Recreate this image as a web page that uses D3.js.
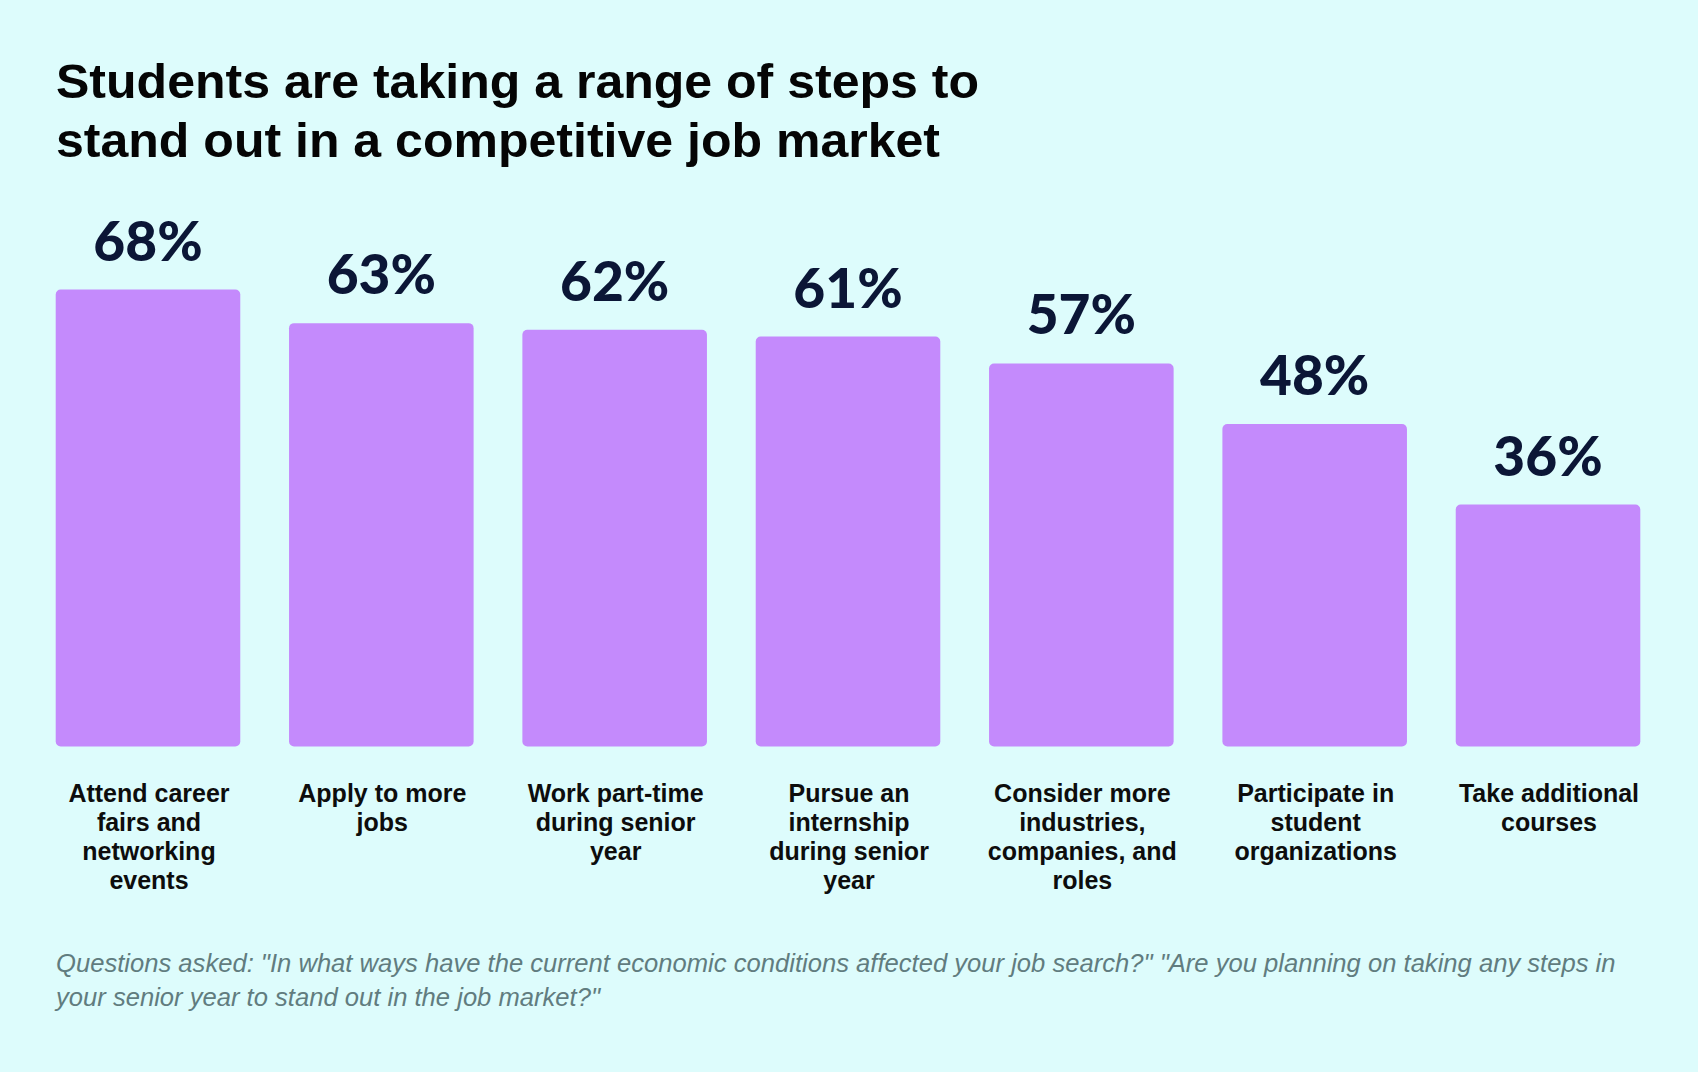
<!DOCTYPE html>
<html>
<head>
<meta charset="utf-8">
<script src="https://cdn.jsdelivr.net/npm/d3@7"></script>
<style>
  html, body { margin: 0; padding: 0; background: #ddfcfc; }
  svg { display: block; }
</style>
</head>
<body>
<svg id="chart" width="1698" height="1072"></svg>
<script>
const titleLines = [
  "Students are taking a range of steps to",
  "stand out in a competitive job market"
];
const categories = [
  "Attend career\nfairs and\nnetworking\nevents",
  "Apply to more\njobs",
  "Work part-time\nduring senior\nyear",
  "Pursue an\ninternship\nduring senior\nyear",
  "Consider more\nindustries,\ncompanies, and\nroles",
  "Participate in\nstudent\norganizations",
  "Take additional\ncourses"
];
const values = [68, 63, 62, 61, 57, 48, 36];
const footnoteLines = [
  "Questions asked: \"In what ways have the current economic conditions affected your job search?\" \"Are you planning on taking any steps in",
  "your senior year to stand out in the job market?\""
];

const svg = d3.select("#chart");
const W = 1698, H = 1072;
svg.append("rect").attr("width", W).attr("height", H).attr("fill", "#ddfcfc");

// Title
const titleTargets = [923, 884];
const title = svg.append("g");
titleLines.forEach((t, i) => {
  title.append("text")
    .attr("x", 56)
    .attr("y", 98 + i * 59)
    .attr("font-family", "'Liberation Sans', Arial, sans-serif")
    .attr("font-weight", 700)
    .attr("font-size", 48)
    .attr("fill", "#050505")
    .attr("textLength", titleTargets[i])
    .attr("lengthAdjust", "spacingAndGlyphs")
    .text(t);
});

// Scales
const x = d3.scaleBand()
  .domain(categories)
  .range([55.7, 1640.3])
  .paddingInner(0.209)
  .paddingOuter(0);
const y = d3.scaleLinear().domain([0, 100]).range([746.5, 74.5]);

// Bars
svg.append("g").selectAll("rect")
  .data(values)
  .join("rect")
  .attr("x", (d, i) => x(categories[i]))
  .attr("y", d => y(d))
  .attr("width", x.bandwidth())
  .attr("height", d => y(0) - y(d))
  .attr("rx", 5)
  .attr("ry", 5)
  .attr("fill", "#c48afc");

// Value labels
svg.append("g").selectAll("text")
  .data(values)
  .join("text")
  .attr("x", (d, i) => x(categories[i]) + x.bandwidth() / 2)
  .attr("y", d => y(d) - 29)
  .attr("text-anchor", "middle")
  .attr("font-family", "Lato, 'Open Sans', sans-serif")
  .attr("font-weight", 900)
  .attr("font-size", 55)
  .attr("fill", "#0b1636")
  .text(d => d + "%");

// Category labels
const catG = svg.append("g");
categories.forEach((c, i) => {
  const cx = x(c) + x.bandwidth() / 2 + 1;
  const t = catG.append("text")
    .attr("x", cx)
    .attr("y", 802)
    .attr("text-anchor", "middle")
    .attr("font-family", "'Liberation Sans', Arial, sans-serif")
    .attr("font-weight", 700)
    .attr("font-size", 25)
    .attr("fill", "#0d0d0d");
  c.split("\n").forEach((line, j) => {
    t.append("tspan")
      .attr("x", cx)
      .attr("y", 802 + j * 29)
      .text(line);
  });
});

// Footnote
const foot = svg.append("g");
const fEls = footnoteLines.map((t, i) => foot.append("text")
  .attr("x", 56)
  .attr("y", 972 + i * 34)
  .attr("font-family", "'Liberation Sans', Arial, sans-serif")
  .attr("font-style", "italic")
  .attr("font-size", 24)
  .attr("fill", "#617c7f")
  .text(t));
const w0 = fEls[0].node().getComputedTextLength();
const k = 1560 / w0;
fEls.forEach(el => el.attr("font-size", 24 * k));
</script>
</body>
</html>
